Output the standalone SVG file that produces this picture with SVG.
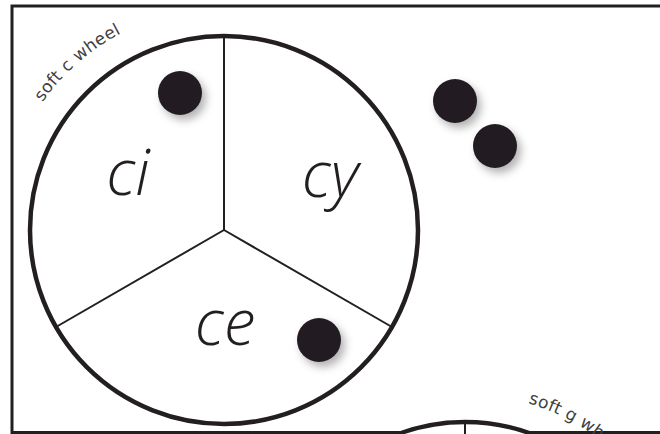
<svg xmlns="http://www.w3.org/2000/svg" width="660" height="434" viewBox="0 0 660 434">
<style>
.rim{fill:#fff;stroke:#231f20;stroke-width:4.5}
.spoke{stroke:#231f20;stroke-width:2;fill:none}
.big{font-family:"Open Sans","DejaVu Sans",sans-serif;font-weight:300;font-style:italic;font-size:64px;fill:#231f20;text-anchor:middle}
.lbl{font-family:"DejaVu Sans",sans-serif;font-size:17px;fill:#414042;letter-spacing:0.3px}
.dot{fill:#231f20;filter:url(#sh)}
</style>
<defs>
<filter id="sh" x="-60%" y="-60%" width="220%" height="220%">
<feDropShadow dx="4" dy="5" stdDeviation="4" flood-color="#000" flood-opacity="0.3"/>
</filter>
<path id="arcC" d="M 31.7 119 A 222 222 0 0 1 185.5 11.4"/>
<path id="arcG" d="M 465 394 A 222 222 0 0 1 687 616"/>
</defs>
<rect x="0" y="0" width="660" height="434" fill="#fff"/>
<rect x="12" y="6" width="700" height="426.5" fill="none" stroke="#231f20" stroke-width="3"/>
<g id="wheel-g">
<circle class="rim" cx="465" cy="616" r="194"/>
<line class="spoke" x1="465" y1="616" x2="465" y2="422"/>
<text class="lbl"><textPath href="#arcG" startOffset="64">soft g wheel</textPath></text>
</g>
<g id="wheel-c">
<circle class="rim" cx="224" cy="230" r="194"/>
<g id="spokes">
<line class="spoke" x1="224" y1="230" x2="224" y2="36"/>
<line class="spoke" x1="224" y1="230" x2="56" y2="327"/>
<line class="spoke" x1="224" y1="230" x2="392" y2="327"/>
</g>
<text class="lbl"><textPath href="#arcC" startOffset="20">soft c wheel</textPath></text>
<text class="big" x="128" y="195">ci</text>
<text class="big" x="330" y="197">cy</text>
<text class="big" x="225" y="345">ce</text>
</g>
<g id="dots">
<circle class="dot" cx="180" cy="93" r="22"/>
<circle class="dot" cx="319" cy="340" r="22"/>
<circle class="dot" cx="455" cy="101" r="22"/>
<circle class="dot" cx="495" cy="146" r="22"/>
</g>
</svg>
